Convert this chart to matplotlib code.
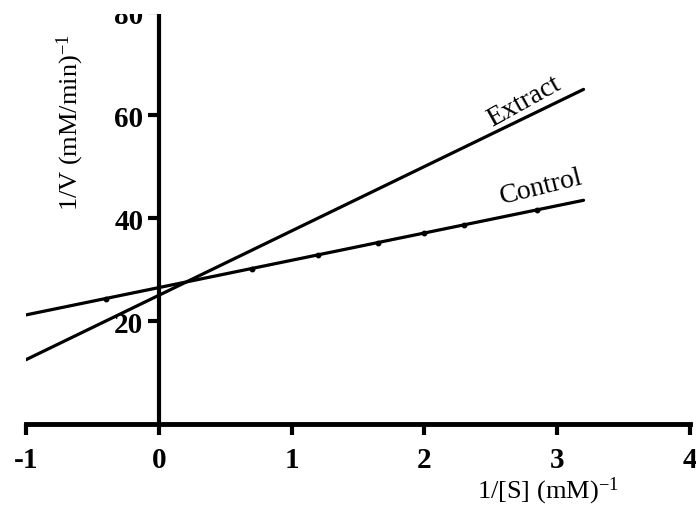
import numpy as np
import matplotlib.pyplot as plt
from matplotlib.patches import Rectangle

# Lineweaver-Burk fit lines (1/V = b + m * 1/[S])
x_fit = [-1.0, 3.2]
extract_intercept = 25.0
extract_slope = 12.5
control_intercept = 26.5
control_slope = 5.3

# points along the control line
control_pts = [-0.4, 0.7, 1.2, 1.65, 2.0, 2.3, 2.85]

x_ticks = [-1, 0, 1, 2, 3, 4]
y_ticks = [20, 40, 60, 80]

plt.rcParams['font.family'] = 'Liberation Serif'
plt.rcParams['mathtext.fontset'] = 'custom'
plt.rcParams['mathtext.rm'] = 'Liberation Serif'
plt.rcParams['mathtext.default'] = 'rm'

fig = plt.figure(figsize=(6.96, 5.06), dpi=100)
ax = fig.add_axes([0.0374, 0.16, 0.9536, 0.814])

xf = np.array(x_fit)
ax.plot(xf, extract_intercept + extract_slope * xf, color='black', linewidth=2.3, solid_capstyle='round')
ax.plot(xf, control_intercept + control_slope * xf, color='black', linewidth=2.3, solid_capstyle='round')
cp = np.array(control_pts)
ax.plot(cp, control_intercept + control_slope * cp, 'o', color='black', markersize=3.2)

ax.text(2.75, 62.8, 'Extract', fontsize=20, rotation=29, ha='center', va='center')
ax.text(2.88, 46.2, 'Control', fontsize=20, rotation=14, ha='center', va='center')

ax.set_xlim(-1, 4)
ax.set_ylim(0, 80)
ax.spines['left'].set_position(('data', 0))
ax.spines['top'].set_visible(False)
ax.spines['right'].set_visible(False)
ax.spines['left'].set_linewidth(3)
ax.spines['bottom'].set_linewidth(3.5)

ax.set_xticks(x_ticks)
ax.set_xticklabels([str(v) for v in x_ticks], fontsize=21, fontweight='bold')
ax.set_yticks(y_ticks)
ax.set_yticklabels([str(v) for v in y_ticks], fontsize=21, fontweight='bold')
ax.tick_params(axis='x', direction='out', length=8, width=3, pad=8)
ax.tick_params(axis='y', direction='out', length=8, width=3, pad=3)

ax.set_xlabel('1/[S] (mM)$^{-1}$', fontsize=19)
ax.xaxis.set_label_coords(548 / 696, 1 - 491 / 506, transform=fig.transFigure)
ax.xaxis.label.set_va('center')
ax.set_ylabel('1/V (mM/min)$^{-1}$', fontsize=19)
ax.yaxis.set_label_coords(70 / 696, 1 - 123 / 506, transform=fig.transFigure)
ax.yaxis.label.set_va('center')

# top edge of the page is trimmed
fig.patches.append(Rectangle((0, 1 - 15 / 506), 1, 15 / 506, transform=fig.transFigure,
                             facecolor='white', edgecolor='none', zorder=10))

fig.savefig('out.png', dpi=100)
